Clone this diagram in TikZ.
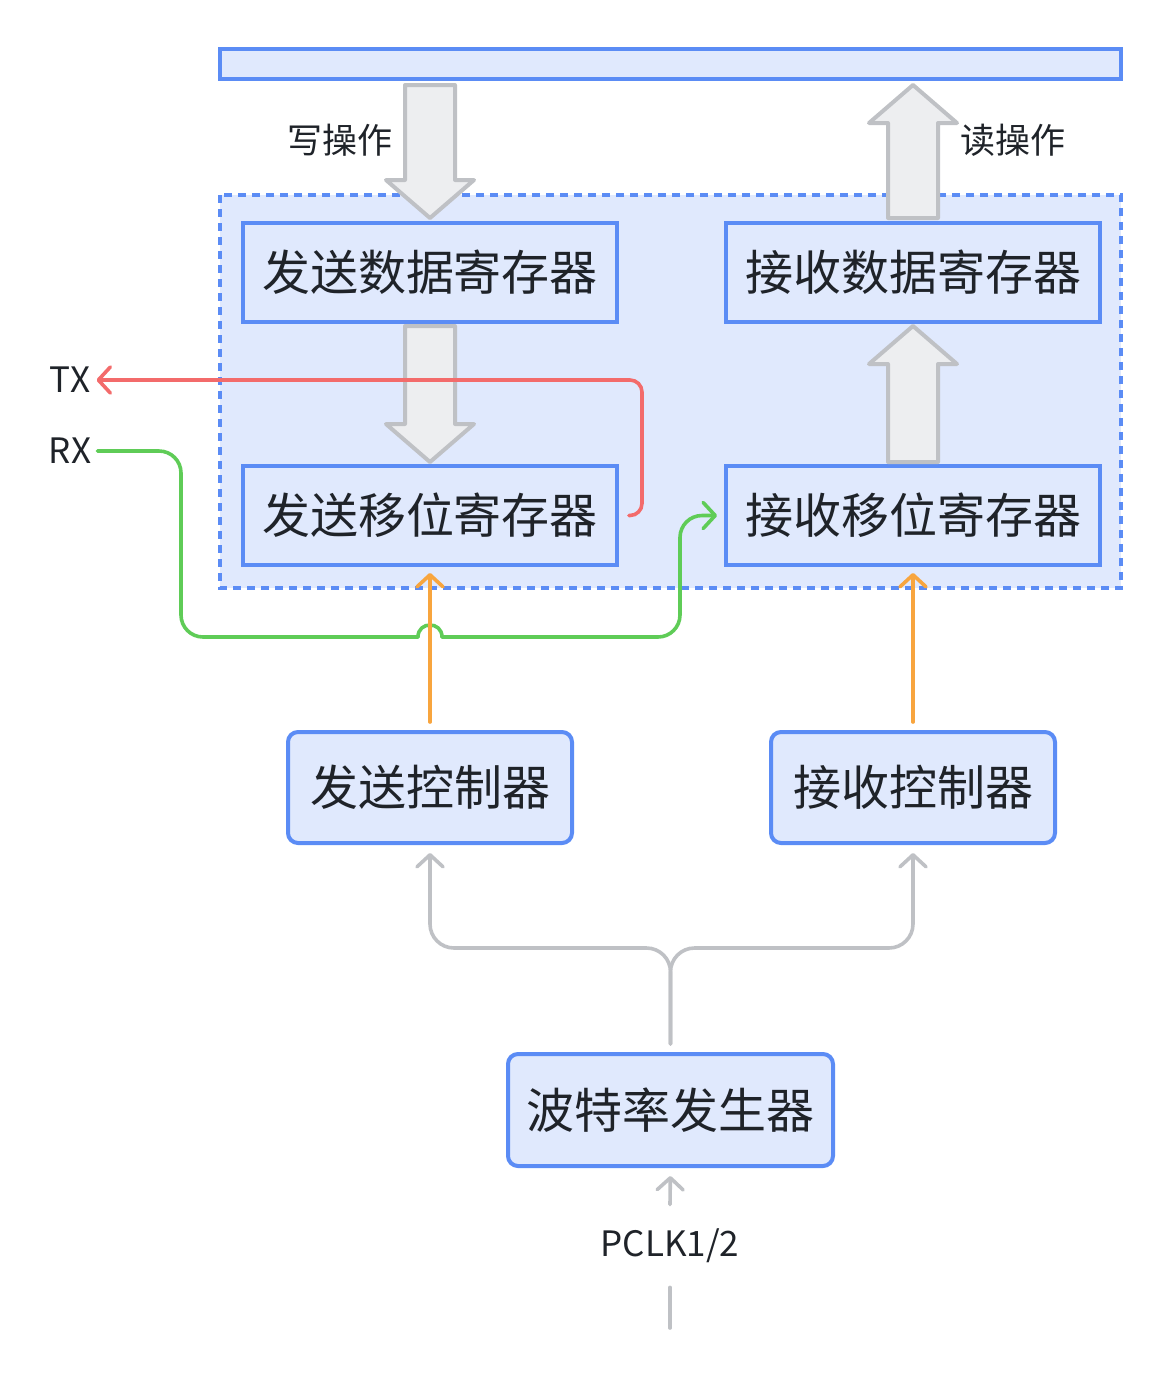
\documentclass[tikz,border=0pt]{standalone}
\usepackage{fontspec}
\setmainfont{Noto Sans CJK SC}
\usetikzlibrary{positioning,arrows.meta,calc}
\definecolor{boxblue}{HTML}{5B8CF5}
\definecolor{boxfill}{HTML}{E0E9FD}
\definecolor{linegray}{HTML}{BFC1C5}
\definecolor{arrowfill}{HTML}{EDEEF0}
\definecolor{txred}{HTML}{F36B6B}
\definecolor{rxgreen}{HTML}{5FCC57}
\definecolor{ctlorange}{HTML}{F8A53E}
\definecolor{inkdark}{HTML}{1F2329}

% hollow block arrow from #1 (tail) to #2 (tip)
\newcommand{\blockarrow}[2]{%
	\draw[blockarrow] let \p1=(#1), \p2=(#2), \p3=($(#2)!19pt!(#1)$) in
	(\x1-12.5pt,\y1) -- (\x1-12.5pt,\y3) -- (\x1-22pt,\y3) -- (\x2,\y2)
	-- (\x1+22pt,\y3) -- (\x1+12.5pt,\y3) -- (\x1+12.5pt,\y1) -- cycle;}

\begin{document}
\begin{tikzpicture}[
		x=0.5pt, y=-0.5pt,
		reg/.style={
			draw=boxblue,
			fill=boxfill,
			line width=2pt,
			outer sep=0pt,
			inner sep=0pt,
			minimum width=187pt,
			minimum height=49.5pt,
			text=inkdark,
			font=\fontsize{24}{28}\selectfont
		},
		ctrl/.style={reg, rounded corners=5pt, minimum width=142pt, minimum height=55.5pt},
		bus/.style={draw=boxblue, fill=boxfill, line width=2pt, inner sep=0pt,
			minimum width=450.5pt, minimum height=15pt},
		group/.style={draw=boxblue, fill=boxfill, line width=2pt, dash pattern=on 4pt off 3pt},
		note/.style={text=inkdark, font=\fontsize{17.5}{21}\selectfont, inner sep=3pt},
		blockarrow/.style={draw=linegray, fill=arrowfill, line width=2pt, line join=round},
		tip/.style={-{Straight Barb[length=6pt,width=13pt,round]}},
		txline/.style={draw=txred, line width=1.8pt, line cap=round, rounded corners=6pt, tip},
		rxplain/.style={draw=rxgreen, line width=1.8pt, line cap=round, rounded corners=11pt},
		rxline/.style={rxplain, tip},
		ctlline/.style={draw=ctlorange, line width=1.8pt, line cap=round, tip},
		clkplain/.style={draw=linegray, line width=1.8pt, line cap=round, rounded corners=12pt},
		clk/.style={clkplain, tip}
		]
		\useasboundingbox (0,0) rectangle (1172,1394);
		
		% register group
		\draw[group] (220,195) rectangle (1121,588);
		
		\node[bus] (bus) at (670.5,64) {};
		
		\node[reg] (tdr) at (430,272.5) {发送数据寄存器};
		\node[reg] (rdr) [right=54.5pt of tdr] {接收数据寄存器};
		\node[reg] (tsr) [below=72pt of tdr] {发送移位寄存器};
		\node[reg] (rsr) [below=72pt of rdr] {接收移位寄存器};
		
		\node[ctrl] (tc) [below=83.5pt of tsr] {发送控制器};
		\node[ctrl] (rc) [below=83.5pt of rsr] {接收控制器};
		\node[ctrl, minimum width=162.5pt, minimum height=56pt] (baud) at (670.5,1110) {波特率发生器};
		
		\node[note] (wrlabel) at (340,140) {写操作};
		\node[note] (rdlabel) at (1013,140) {读操作};
		\node[note] (tx) at (70,380) {TX};
		\node[note] (rx) at (70,451) {RX};
		\node[note, inner xsep=0pt, inner ysep=12pt] (pclk) at (670,1246) {PCLK1/2};
		
		% data paths
		\coordinate (wrtop) at ($(tdr.north |- bus.south)+(0,-2pt)$);
		\coordinate (wrtip) at ($(tdr.north)+(0,2.5pt)$);
		\coordinate (rdbot) at ($(rdr.north)+(0,2.5pt)$);
		\coordinate (rdtip) at ($(rdr.north |- bus.south)+(0,-2pt)$);
		\coordinate (ldtop) at ($(tdr.south)+(0,-2pt)$);
		\coordinate (ldtip) at ($(tsr.north)+(0,2pt)$);
		\coordinate (shbot) at ($(rsr.north)+(0,2pt)$);
		\coordinate (shtip) at ($(rdr.south)+(0,-2pt)$);
		\blockarrow{wrtop}{wrtip}
		\blockarrow{rdbot}{rdtip}
		\blockarrow{ldtop}{ldtip}
		\blockarrow{shbot}{shtip}
		
		% serial lines
		\coordinate (txturn) at (642,380);
		\draw[txline, shorten <=6pt] (tsr.east) -| (txturn) -- (tx.east);
		\coordinate (hopl) at (418,637);
		\coordinate (hopr) at (442,637);
		\draw[rxplain] (rx.east) -| (181,637) -- (hopl);
		\draw[rxplain, sharp corners] (hopl) .. controls (418,621) and (442,621) .. (hopr);
		\draw[rxline, shorten >=4.5pt] (hopr) -- (680,637) |- (rsr.west);
		
		% control
		\draw[ctlline, shorten <=5pt, shorten >=4pt] (tc.north) -- (tsr.south);
		\draw[ctlline, shorten <=5pt, shorten >=4pt] (rc.north) -- (rsr.south);
		
		% clock
		\coordinate (split) at (670.5,948);
		\draw[clk, shorten <=5pt, shorten >=5pt] (baud.north) -- (split) -| (tc.south);
		\draw[clk, shorten <=5pt, shorten >=5pt] (baud.north) -- (split) -| (rc.south);
		\draw[clk, shorten >=5pt] (pclk.north) -- (baud.south);
		\coordinate (pclkin) at (670,1328);
		\draw[clkplain] (pclkin) -- (pclk.south);
		
	\end{tikzpicture}
\end{document}
